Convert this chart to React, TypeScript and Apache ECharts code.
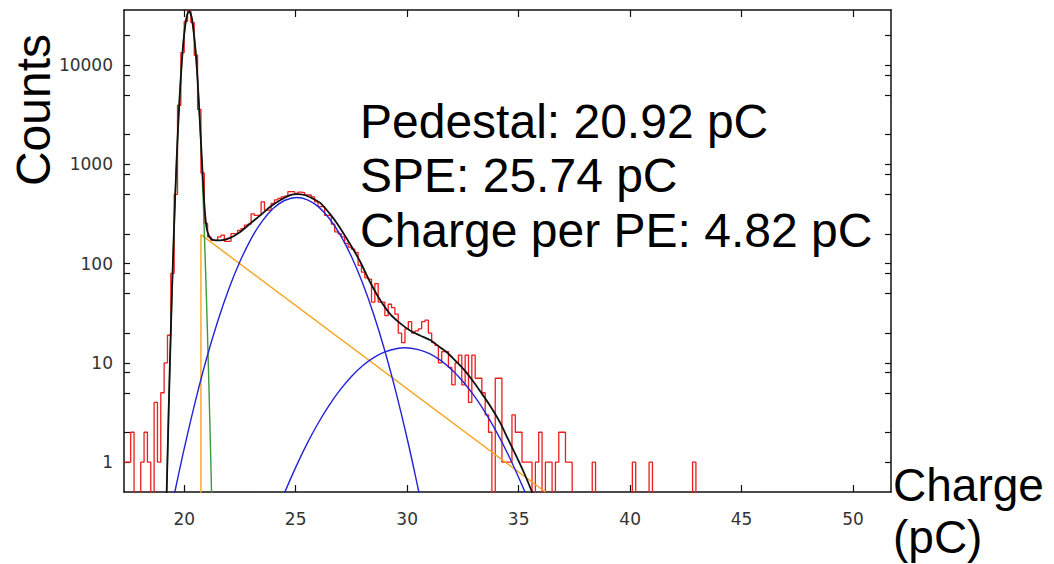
import React, { useEffect, useRef } from "react";
import * as echarts from "echarts";

// ---- axes ----
const X_MIN = 17.3;
const X_MAX = 51.7;
const Y_MIN = 0.5;
const Y_MAX = 36000;
const xTickValues = [20, 25, 30, 35, 40, 45, 50];
const yLabelValues = [1, 10, 100, 1000, 10000];
const yTickValues = [1, 2, 5, 8, 10, 20, 50, 80, 100, 200, 500, 800, 1000, 2000, 5000, 8000, 10000, 20000];

// ---- histogram (bin left edge = BIN_START + i * BIN_WIDTH) ----
const BIN_START = 17.3;
const BIN_WIDTH = 0.15;
const ZERO_FLOOR = 0.1; // empty bins drawn below the axis floor
const histCounts = [
  1, 1, 2, 0, 0, 1, 2, 1, 0, 4,
  1, 5, 10, 19, 80, 500, 3950, 13400, 27700, 35000,
  26900, 12600, 3580, 820, 255, 186, 172, 172, 186, 194,
  168, 168, 201, 201, 217, 226, 244, 250, 318, 306,
  310, 420, 347, 347, 405, 440, 454, 472, 480, 532,
  532, 512, 525, 520, 492, 492, 470, 420, 375, 375,
  306, 306, 250, 209, 200, 186, 160, 147, 140, 130,
  96, 82, 72, 70, 41, 63, 41, 41, 30, 39,
  36, 31, 20, 16, 22, 26, 20, 21, 22, 26,
  27, 20, 16, 15, 10, 13, 13, 9, 6, 10,
  12, 6, 12, 4, 12, 7, 7, 5, 3, 2,
  0, 7, 7, 1, 1, 1, 3, 2, 2, 1,
  1, 1, 0, 1, 2, 0, 1, 1, 0, 1,
  2, 2, 1, 1, 0, 0, 0, 0, 0, 0,
  1, 0, 0, 0, 0, 0, 0, 0, 0, 0,
  0, 0, 1, 0, 0, 0, 0, 1, 0, 0,
  0, 0, 0, 0, 0, 0, 0, 0, 0, 0,
  1,
];

// ---- fit curves: [charge pC, counts] ----
const totalFit = [
  [19.2, 0.37], [19.3, 3.1], [19.4, 21], [19.5, 115], [19.6, 506], [19.7, 1780], [19.8, 5010],
  [19.9, 11320], [20.0, 20530], [20.1, 29870], [20.22, 35000], [20.35, 29050], [20.5, 14750],
  [20.6, 7130], [20.7, 2765], [20.8, 1050], [20.9, 406], [21.0, 232], [21.1, 193], [21.2, 178],
  [21.4, 172], [21.62, 172], [22.06, 182], [22.51, 209], [22.96, 254], [23.41, 307], [23.86, 374],
  [24.3, 436], [24.75, 490], [25.05, 502], [25.4, 492], [25.75, 455], [26.1, 410], [26.5, 325],
  [26.85, 255], [27.45, 156], [27.9, 104], [28.34, 65], [28.79, 43], [29.24, 31], [29.69, 25],
  [30.13, 21.2], [30.58, 18.9], [31.03, 17], [31.5, 14.2], [31.78, 12.8], [32.15, 10.6],
  [32.52, 8.7], [32.9, 6.8], [33.27, 5.2], [33.72, 3.7], [34.17, 2.5], [34.5, 1.75], [34.78, 1.3],
  [35.22, 0.8], [35.6, 0.5], [35.7, 0.43],
];
const pedestalFit = [
  [19.2, 0.37], [19.3, 3.1], [19.4, 21], [19.5, 115], [19.6, 506], [19.7, 1780], [19.8, 5010],
  [19.9, 11320], [20.0, 20530], [20.1, 29870], [20.22, 35000], [20.35, 29050], [20.5, 14750],
  [20.6, 7130], [20.7, 2760], [20.8, 859], [20.9, 214], [21.0, 43], [21.1, 6.9], [21.2, 0.89],
  [21.25, 0.29],
];
const speFit = [
  [19.5, 0.41], [19.7, 0.67], [20.0, 1.37], [20.5, 4.1], [21.0, 11], [21.5, 26.1], [22.0, 55.5],
  [22.5, 105], [23.0, 178], [23.5, 268], [24.0, 361], [24.5, 433], [25.05, 464], [25.5, 443],
  [26.0, 378], [26.5, 287], [27.0, 195], [27.5, 118], [28.0, 63.7], [28.5, 30.7], [29.0, 13.2],
  [29.5, 5.05], [30.0, 1.73], [30.5, 0.53], [30.7, 0.32],
];
const twoPeFit = [
  [24.5, 0.49], [25.0, 0.885], [25.5, 1.52], [26.0, 2.45], [26.5, 3.73], [27.0, 5.37], [27.5, 7.3],
  [28.0, 9.36], [28.5, 11.3], [29.0, 12.9], [29.5, 13.9], [29.9, 14.2], [30.5, 13.6], [31.0, 12.4],
  [31.5, 10.6], [32.0, 8.53], [32.5, 6.5], [33.0, 4.68], [33.5, 3.18], [34.0, 2.03], [34.5, 1.23],
  [35.0, 0.7], [35.3, 0.49], [35.5, 0.38],
];
const expFit = [
  [20.75, ZERO_FLOOR], [20.75, 196], [36.2, 0.5],
];

// ---- annotation texts ----
const resultLines = ["Pedestal: 20.92 pC", "SPE: 25.74 pC", "Charge per PE: 4.82 pC"];
const yTitle = "Counts";
const xTitle = ["Charge", "(pC)"];

const BIG_FONT = '"Liberation Sans", Arial, sans-serif';
const TICK_FONT = '"DejaVu Sans", sans-serif';

export default function App() {
  const ref = useRef<HTMLDivElement>(null);

  useEffect(() => {
    if (!ref.current) return;
    const chart = echarts.init(ref.current, undefined, { renderer: "svg" });

    const histData: number[][] = histCounts.map((c, i) => [
      BIN_START + i * BIN_WIDTH,
      c > 0 ? c : ZERO_FLOOR,
    ]);
    histData.push([BIN_START + histCounts.length * BIN_WIDTH, ZERO_FLOOR]);

    const axisLine = { show: true, onZero: false, lineStyle: { color: "#111", width: 1.5 } };
    const tickStyle = { color: "#111", width: 1.2 };

    const lineSeries = (data: number[][], color: string, width: number, smooth: number | boolean) => ({
      type: "line",
      data,
      showSymbol: false,
      smooth,
      clip: true,
      silent: true,
      lineStyle: { color, width },
      itemStyle: { color },
    });

    const option: any = {
      animation: false,
      backgroundColor: "#ffffff",
      grid: { left: 124, top: 10, width: 767, height: 482, containLabel: false },
      xAxis: [
        {
          type: "value",
          position: "bottom",
          min: X_MIN,
          max: X_MAX,
          axisLine,
          splitLine: { show: false },
          axisTick: { show: true, inside: true, length: 7, lineStyle: tickStyle, customValues: xTickValues },
          axisLabel: {
            show: true,
            customValues: xTickValues,
            margin: 18,
            fontSize: 17,
            fontFamily: TICK_FONT,
            color: "#333",
            formatter: (v: number) => String(v),
          },
        },
        {
          type: "value",
          position: "top",
          min: X_MIN,
          max: X_MAX,
          axisLine,
          splitLine: { show: false },
          axisTick: { show: true, inside: true, length: 7, lineStyle: tickStyle, customValues: xTickValues },
          axisLabel: { show: false },
        },
      ],
      yAxis: [
        {
          type: "log",
          logBase: 10,
          position: "left",
          min: Y_MIN,
          max: Y_MAX,
          axisLine,
          splitLine: { show: false },
          minorTick: { show: false },
          axisTick: { show: true, inside: true, length: 6, lineStyle: tickStyle, customValues: yTickValues },
          axisLabel: {
            show: true,
            customValues: yLabelValues,
            margin: 11,
            fontSize: 17,
            fontFamily: TICK_FONT,
            color: "#333",
            formatter: (v: number) => String(Math.round(v)),
          },
        },
        {
          type: "log",
          logBase: 10,
          position: "right",
          min: Y_MIN,
          max: Y_MAX,
          axisLine,
          splitLine: { show: false },
          minorTick: { show: false },
          axisTick: { show: true, inside: true, length: 6, lineStyle: tickStyle, customValues: yTickValues },
          axisLabel: { show: false },
        },
      ],
      series: [
        { ...lineSeries(histData, "#ee1c1c", 1.3, false), step: "end" },
        lineSeries(expFit, "#f5a51e", 1.4, false),
        lineSeries(pedestalFit, "#3b9a3b", 1.4, 0.3),
        lineSeries(speFit, "#2323d8", 1.4, 0.4),
        lineSeries(twoPeFit, "#2323d8", 1.4, 0.4),
        lineSeries(totalFit, "#111111", 1.8, 0.3),
      ],
      graphic: [
        {
          type: "text",
          x: 33,
          y: 110,
          rotation: Math.PI / 2,
          style: { text: yTitle, fontSize: 48, fontFamily: BIG_FONT, fill: "#000", align: "center", verticalAlign: "middle" },
        },
        ...resultLines.map((t, i) => ({
          type: "text",
          x: 360,
          y: 121 + i * 54.5,
          style: { text: t, fontSize: 48, fontFamily: BIG_FONT, fill: "#000", align: "left", verticalAlign: "middle" },
        })),
        ...xTitle.map((t, i) => ({
          type: "text",
          x: 893,
          y: 485 + i * 52,
          style: { text: t, fontSize: 46, fontFamily: BIG_FONT, fill: "#000", align: "left", verticalAlign: "middle" },
        })),
      ],
    };

    chart.setOption(option);
    return () => chart.dispose();
  }, []);

  return (
    <div
      ref={ref}
      style={{ position: "absolute", left: 0, top: 0, width: 1054, height: 564, background: "#fff" }}
    />
  );
}
